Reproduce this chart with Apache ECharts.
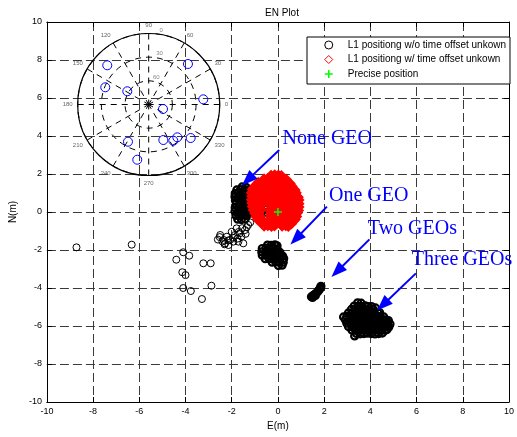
<!DOCTYPE html>
<html>
<head>
<meta charset="utf-8">
<script src="https://cdn.jsdelivr.net/npm/echarts@6/dist/echarts.min.js"></script>
<style>
  html, body { margin: 0; padding: 0; background: #fff; }
  #main { width: 517px; height: 437px; }
</style>
</head>
<body>
<div id="main"></div>
<script>
// ---- East/North position fixes (metres) ----
// L1 positioning without time offset unknown: sparse outliers
const scatteredFixes = [
  [-8.72,-1.86],[-6.33,-1.72],[-4.10,-2.12],[-3.84,-2.30],[-4.40,-2.51],[-3.23,-2.70],[-2.91,-2.70],
  [-4.14,-3.17],[-4.00,-3.32],[-4.10,-4.00],[-3.77,-4.16],[-2.88,-3.88],[-3.29,-4.58],
  [-2.52,-1.32],[-2.35,-1.47],[-2.31,-1.70],[-2.14,-1.74],
  [-2.50,-1.21],[-2.29,-1.65],[-2.07,-1.47],[-1.86,-1.21],[-1.65,-1.12],[-1.50,-1.65],[-1.43,-0.95],
  [-1.79,-0.86],[-2.00,-1.04],[-2.21,-1.30],[-1.29,-0.68],[-1.71,-1.56],[-1.93,-1.56],
  [-2.60,-1.45],[-2.40,-1.55],[-2.15,-1.50],[-1.95,-1.35],[-1.75,-1.40],[-1.58,-1.30],[-1.40,-1.15],
  [-1.55,-0.85],[-1.70,-1.05],[-1.35,-0.80],[-1.20,-0.55]
];
// no GEO satellite used
const noneGeoFixes = [
  [-1.55,1.32],[-1.38,1.30],
  [-1.78,1.16],[-1.62,1.18],[-1.45,1.15],[-1.28,1.17],
  [-1.85,0.98],[-1.70,1.00],[-1.54,0.97],[-1.38,0.99],[-1.22,1.01],[-1.08,0.97],
  [-1.86,0.80],[-1.72,0.78],[-1.56,0.81],[-1.40,0.79],[-1.24,0.80],[-1.10,0.77],
  [-1.84,0.60],[-1.68,0.62],[-1.52,0.59],[-1.36,0.61],[-1.20,0.60],[-1.04,0.58],
  [-1.80,0.42],[-1.64,0.40],[-1.48,0.43],[-1.32,0.41],[-1.16,0.39],
  [-1.85,0.22],[-1.70,0.20],[-1.54,0.23],[-1.38,0.21],
  [-1.86,0.03],[-1.72,0.01],[-1.56,0.04],[-1.40,0.02],[-1.26,-0.01],
  [-1.82,-0.18],[-1.66,-0.20],[-1.50,-0.17],[-1.35,-0.19],
  [-1.74,-0.38],[-1.58,-0.40],[-1.42,-0.37],
  [-0.58,0.30],[-0.50,0.14],[-0.56,-0.04],[-0.48,-0.22],[-0.55,-0.38],[-0.46,0.26]
];
// one GEO satellite used
const oneGeoFixes = [
  [-0.45,-1.74],[-0.29,-1.76],[-0.13,-1.73],[-0.04,-1.78],
  [-0.68,-1.92],[-0.52,-1.90],[-0.36,-1.93],[-0.20,-1.91],[-0.04,-1.94],
  [-0.70,-2.10],[-0.54,-2.12],[-0.38,-2.09],[-0.22,-2.11],[-0.06,-2.10],[0.08,-2.12],
  [-0.68,-2.28],[-0.52,-2.27],[-0.36,-2.30],[-0.20,-2.28],[-0.04,-2.29],[0.12,-2.27],[0.20,-2.32],
  [-0.55,-2.46],[-0.39,-2.45],[-0.23,-2.47],[-0.07,-2.46],[0.09,-2.48],[0.25,-2.45],
  [-0.25,-2.64],[-0.09,-2.63],[0.07,-2.65],[0.23,-2.64],
  [0.02,-2.82],[0.18,-2.80]
];
// two GEO satellites used
const twoGeoFixes = [
  [1.45,-4.46],[1.52,-4.40],[1.58,-4.35],[1.64,-4.29],[1.70,-4.22],[1.75,-4.15],
  [1.80,-4.07],[1.84,-3.99],[1.86,-3.91],[1.50,-4.50],[1.62,-4.40]
];
// three GEO satellites used
const threeGeoFixes = [
  [3.45,-4.78],[3.60,-4.80],
  [3.30,-4.95],[3.46,-4.97],[3.62,-4.96],[3.78,-4.94],[3.90,-4.98],
  [3.18,-5.13],[3.34,-5.15],[3.50,-5.14],[3.66,-5.12],[3.82,-5.14],[3.98,-5.16],[4.12,-5.13],
  [3.05,-5.31],[3.21,-5.33],[3.37,-5.32],[3.53,-5.30],[3.69,-5.32],[3.85,-5.34],[4.01,-5.32],[4.17,-5.31],[4.33,-5.33],[4.40,-5.29],
  [2.98,-5.49],[3.14,-5.51],[3.30,-5.50],[3.46,-5.52],[3.62,-5.50],[3.78,-5.49],[3.94,-5.51],[4.10,-5.50],[4.26,-5.48],[4.42,-5.50],[4.58,-5.52],
  [2.92,-5.67],[3.08,-5.69],[3.24,-5.68],[3.40,-5.66],[3.56,-5.68],[3.72,-5.70],[3.88,-5.68],[4.04,-5.67],[4.20,-5.69],[4.36,-5.68],[4.52,-5.66],[4.68,-5.68],[4.78,-5.71],
  [2.98,-5.85],[3.14,-5.87],[3.30,-5.86],[3.46,-5.84],[3.62,-5.86],[3.78,-5.88],[3.94,-5.86],[4.10,-5.85],[4.26,-5.87],[4.42,-5.86],[4.58,-5.84],[4.74,-5.86],[4.85,-5.89],
  [3.05,-6.03],[3.21,-6.05],[3.37,-6.04],[3.53,-6.02],[3.69,-6.04],[3.85,-6.06],[4.01,-6.04],[4.17,-6.03],[4.33,-6.05],[4.49,-6.04],[4.65,-6.02],[4.80,-6.05],
  [3.20,-6.21],[3.36,-6.23],[3.52,-6.22],[3.68,-6.20],[3.84,-6.22],[4.00,-6.24],[4.16,-6.22],[4.32,-6.21],[4.48,-6.23],[4.64,-6.22],[4.72,-6.19],
  [3.40,-6.39],[3.56,-6.41],[3.72,-6.40],[3.88,-6.38],[4.04,-6.40],[4.20,-6.42],[4.36,-6.40],[4.52,-6.37],
  [2.84,-5.52],[3.32,-6.52],[4.05,-4.98],[4.22,-5.05]
];
// L1 positioning with time offset unknown
const offsetFixes = [
  [-0.30,1.92],[-0.14,1.94],[0.02,1.93],[0.15,1.90],
  [-0.60,1.73],[-0.44,1.75],[-0.28,1.76],[-0.12,1.74],[0.04,1.75],[0.20,1.73],[0.35,1.72],
  [-0.85,1.55],[-0.69,1.57],[-0.53,1.56],[-0.37,1.58],[-0.21,1.56],[-0.05,1.55],[0.11,1.57],[0.27,1.56],[0.43,1.54],[0.52,1.50],
  [-1.00,1.37],[-0.84,1.39],[-0.68,1.38],[-0.52,1.36],[-0.36,1.38],[-0.20,1.40],[-0.04,1.38],[0.12,1.37],[0.28,1.39],[0.44,1.38],[0.60,1.35],
  [-1.10,1.19],[-0.94,1.21],[-0.78,1.20],[-0.62,1.22],[-0.46,1.20],[-0.30,1.19],[-0.14,1.21],[0.02,1.20],[0.18,1.22],[0.34,1.20],[0.50,1.19],[0.64,1.21],[0.73,1.16],
  [-1.14,1.01],[-0.98,1.03],[-0.82,1.02],[-0.66,1.00],[-0.50,1.02],[-0.34,1.04],[-0.18,1.02],[-0.02,1.01],[0.14,1.03],[0.30,1.02],[0.46,1.00],[0.62,1.02],[0.78,1.01],
  [-1.12,0.83],[-0.96,0.85],[-0.80,0.84],[-0.64,0.86],[-0.48,0.84],[-0.32,0.83],[-0.16,0.85],[0.00,0.84],[0.16,0.82],[0.32,0.84],[0.48,0.86],[0.64,0.84],[0.80,0.83],[0.87,0.78],
  [-1.14,0.65],[-0.98,0.67],[-0.82,0.66],[-0.66,0.64],[-0.50,0.66],[-0.34,0.68],[-0.18,0.66],[-0.02,0.65],[0.14,0.67],[0.30,0.66],[0.46,0.64],[0.62,0.66],[0.78,0.67],[0.90,0.63],
  [-1.12,0.47],[-0.96,0.49],[-0.80,0.48],[-0.64,0.50],[-0.32,0.47],[-0.16,0.49],[0.00,0.48],[0.16,0.46],[0.32,0.48],[0.48,0.50],[0.64,0.48],[0.80,0.47],[0.90,0.44],
  [-1.10,0.29],[-0.94,0.31],[-0.78,0.30],[-0.30,0.32],[-0.14,0.30],[0.02,0.29],[0.18,0.31],[0.34,0.30],[0.50,0.28],[0.66,0.30],[0.82,0.31],[0.90,0.26],
  [-1.06,0.11],[-0.90,0.13],[-0.74,0.12],[-0.32,0.10],[-0.16,0.12],[0.00,0.14],[0.16,0.13],[0.32,0.11],[0.48,0.12],[0.64,0.14],[0.80,0.12],[0.88,0.08],
  [-1.00,-0.07],[-0.84,-0.05],[-0.30,-0.06],[-0.14,-0.08],[0.02,-0.06],[0.18,-0.05],[0.34,-0.07],[0.50,-0.06],[0.66,-0.04],[0.82,-0.06],
  [-0.94,-0.25],[-0.78,-0.23],[-0.32,-0.24],[-0.16,-0.22],[0.00,-0.24],[0.16,-0.25],[0.32,-0.23],[0.48,-0.24],[0.64,-0.26],[0.80,-0.24],
  [-0.86,-0.41],[-0.70,-0.43],[-0.30,-0.42],[-0.14,-0.40],[0.02,-0.42],[0.18,-0.43],[0.34,-0.41],[0.50,-0.42],[0.66,-0.44],[0.74,-0.40],
  [-0.70,-0.59],[-0.54,-0.61],[-0.38,-0.60],[-0.22,-0.58],[-0.06,-0.60],[0.10,-0.61],[0.26,-0.59],[0.42,-0.60],[0.58,-0.62],
  [-0.60,-0.73],[-0.44,-0.71],[-0.28,-0.74],[-0.15,-0.72],[0.18,-0.73],[0.34,-0.71],[0.45,-0.74]
];
// surveyed reference point
const precisePosition = [[0, 0]];

// ---- Sky plot: satellites as [90 - elevation, azimuth] ----
const satellitePositions = [
  [72.3,136.6],[71.5,45.9],[59.2,158.4],[31.9,148.3],[69.5,5.4],[19.0,342.5],
  [54.0,240.9],[48.7,292.4],[55.5,304.2],[55.2,311.1],[68.1,321.4],[71.5,258.3]
];
const elevationRings = [90, 60, 30];
const elevationTickLabels = ['0', '30', '60'];

// ---- Axis ticks ----
const enTicks = { min: -10, max: 10, step: 2 };

// ---- Annotations ----
const annotationTexts = ['None GEO', 'One GEO', 'Two GEOs', 'Three GEOs'];
const annotationAnchors = [[0.20, 3.84], [2.21, 0.86], [3.89, -0.89], [5.79, -2.53]];
const arrowFrom = [[0.055, 3.26], [2.12, 0.28], [3.96, -1.44], [5.97, -3.23]];
const arrowTo = [[-1.31, 1.69], [0.78, -1.41], [2.56, -3.13], [4.54, -4.89]];

const seriesNames = [
  'L1 positiong w/o time offset unkown',
  'L1 positiong w/ time offset unkown',
  'Precise position'
];

const sansFont = '"Liberation Sans", Arial, Helvetica, sans-serif';
const serifFont = '"Liberation Serif", "Times New Roman", serif';
const plusPath = 'path://M5,0L5,10M0,5L10,5';

function frameAxis(position, withLabels, extra) {
  return Object.assign({
    type: 'value',
    position: position,
    min: enTicks.min,
    max: enTicks.max,
    interval: enTicks.step,
    axisLine: { show: true, onZero: false, lineStyle: { color: '#000', width: 1 } },
    axisTick: { show: true, inside: true, length: 5, lineStyle: { color: '#000', width: 1 } },
    axisLabel: {
      show: withLabels, color: '#000', fontSize: 9, fontFamily: sansFont, margin: 5,
      showMinLabel: true, showMaxLabel: true, hideOverlap: false
    },
    splitLine: {
      show: withLabels,
      lineStyle: { color: '#3a3a3a', width: 1, type: [9, 4] }
    }
  }, extra || {});
}

function blackFixSeries(data, lineWidth) {
  return {
    name: seriesNames[0],
    type: 'scatter',
    xAxisIndex: 0, yAxisIndex: 0,
    symbol: 'circle', symbolSize: 7,
    itemStyle: { color: 'transparent', borderColor: '#000', borderWidth: lineWidth, opacity: 1 },
    emphasis: { disabled: true },
    data: data,
    z: 3
  };
}

const chart = echarts.init(document.getElementById('main'), null, { renderer: 'canvas' });

const option = {
  animation: false,
  backgroundColor: '#fff',
  title: {
    text: 'EN Plot',
    left: 277,
    top: 3,
    textAlign: 'center',
    textStyle: { fontSize: 10, fontWeight: 'normal', color: '#000', fontFamily: sansFont }
  },
  grid: { left: 42, top: 22, width: 470, height: 380, containLabel: false },
  xAxis: [
    frameAxis('bottom', true, {
      name: 'E(m)', nameLocation: 'middle', nameGap: 16,
      nameTextStyle: { fontSize: 10, color: '#000', fontFamily: sansFont }
    }),
    frameAxis('top', false)
  ],
  yAxis: [
    frameAxis('left', true, {
      name: 'N(m)', nameLocation: 'middle', nameGap: 24, nameRotate: 90,
      nameTextStyle: { fontSize: 10, color: '#000', fontFamily: sansFont }
    }),
    frameAxis('right', false)
  ],
  polar: { center: [148.7, 104.5], radius: 71 },
  angleAxis: {
    type: 'value', min: 0, max: 360, interval: 30, startAngle: 0, clockwise: false,
    axisLine: { show: true, lineStyle: { color: '#000', width: 1.2 } },
    axisTick: { show: false },
    axisLabel: {
      fontSize: 6, color: '#666', margin: 5, fontFamily: sansFont,
      formatter: function (v) { return v === 360 ? '' : String(v); }
    },
    splitLine: { show: true, lineStyle: { color: '#000', width: 1, type: [6, 5] } }
  },
  radiusAxis: {
    type: 'value', min: 0, max: 90, interval: 30,
    axisLine: { show: false }, axisTick: { show: false }, axisLabel: { show: false },
    splitLine: { show: true, lineStyle: { color: '#000', width: 1, type: [6, 5] } }
  },
  legend: {
    orient: 'vertical',
    left: 307,
    top: 37,
    padding: [2, 4, 4, 17],
    itemWidth: 8,
    itemHeight: 8,
    itemGap: 2.5,
    backgroundColor: '#fff',
    borderColor: '#000',
    borderWidth: 1,
    borderRadius: 0,
    selectedMode: false,
    textStyle: { fontSize: 10, color: '#000', fontFamily: sansFont, lineHeight: 12, padding: [0, 0, 0, 10] },
    data: [
      { name: seriesNames[0], icon: 'circle', itemStyle: { color: 'transparent', borderColor: '#000', borderWidth: 1 } },
      { name: seriesNames[1], icon: 'diamond', itemStyle: { color: 'transparent', borderColor: '#ff0000', borderWidth: 1 } },
      { name: seriesNames[2], icon: plusPath, itemStyle: { color: 'transparent', borderColor: '#00ff00', borderWidth: 1.5 } }
    ]
  },
  series: [
    blackFixSeries(scatteredFixes, 1),
    blackFixSeries([].concat(noneGeoFixes, oneGeoFixes, twoGeoFixes, threeGeoFixes), 2.2),
    {
      name: seriesNames[1],
      type: 'scatter',
      xAxisIndex: 0, yAxisIndex: 0,
      symbol: 'diamond', symbolSize: 8,
      itemStyle: { color: 'transparent', borderColor: '#ff0000', borderWidth: 2.6, opacity: 1 },
      emphasis: { disabled: true },
      data: offsetFixes,
      z: 4
    },
    {
      name: seriesNames[2],
      type: 'scatter',
      xAxisIndex: 0, yAxisIndex: 0,
      symbol: plusPath, symbolSize: 8,
      itemStyle: { color: 'transparent', borderColor: '#00ff00', borderWidth: 1.5, opacity: 1 },
      emphasis: { disabled: true },
      data: precisePosition,
      z: 6,
      markLine: {
        silent: true,
        animation: false,
        symbol: ['none', 'triangle'],
        symbolSize: [12, 16],
        lineStyle: { color: '#0000ff', width: 2, type: 'solid' },
        label: { show: false },
        emphasis: { disabled: true },
        data: arrowFrom.map(function (p, i) {
          return [{ coord: p }, { coord: arrowTo[i] }];
        })
      },
      markPoint: {
        silent: true,
        animation: false,
        symbol: 'circle',
        symbolSize: 0,
        label: {
          show: true, position: 'right', distance: 0,
          color: '#0000ff', fontSize: 20, fontFamily: serifFont,
          formatter: function (p) { return p.name; }
        },
        data: annotationTexts.map(function (t, i) {
          return { name: t, coord: annotationAnchors[i] };
        })
      }
    },
    {
      name: 'satellites',
      type: 'scatter',
      coordinateSystem: 'polar',
      symbol: 'circle', symbolSize: 9,
      itemStyle: { color: 'transparent', borderColor: '#0000ff', borderWidth: 1, opacity: 1 },
      emphasis: { disabled: true },
      data: satellitePositions,
      z: 5
    },
    {
      name: 'elevation',
      type: 'scatter',
      coordinateSystem: 'polar',
      symbolSize: 0,
      silent: true,
      label: {
        show: true, position: [1, -1], align: 'left', verticalAlign: 'bottom',
        fontSize: 6, color: '#666', fontFamily: sansFont,
        formatter: function (p) { return p.name; }
      },
      data: elevationRings.map(function (r, i) {
        return { name: elevationTickLabels[i], value: [r, 82] };
      })
    }
  ]
};

chart.setOption(option);
</script>
</body>
</html>
